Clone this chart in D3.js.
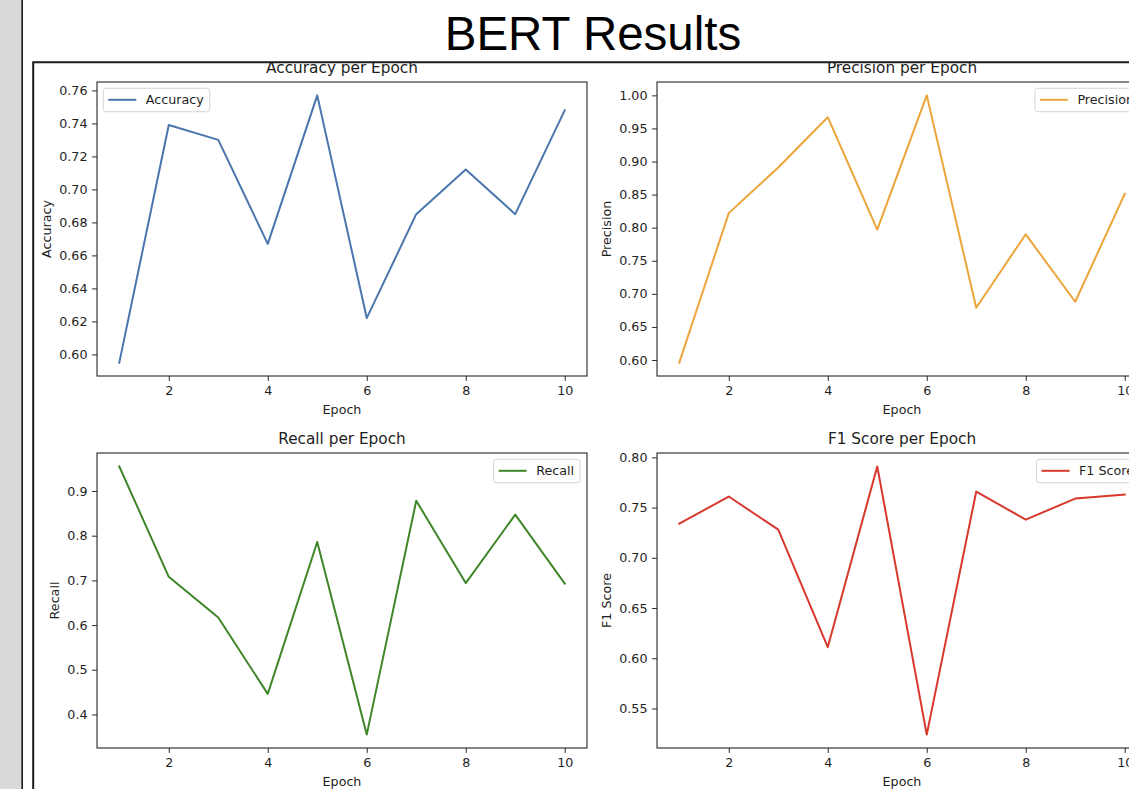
<!DOCTYPE html>
<html>
<head>
<meta charset="utf-8">
<script src="https://cdn.jsdelivr.net/npm/d3@7"></script>
<style>
	body { margin: 0; background: #fff; }
	svg { display: block; }
	.tick text { font-family: "DejaVu Sans", sans-serif; font-size: 12.7px; fill: #1e1e1e; }
	.tick line { stroke: #262626; }
	.domain { display: none; }
</style>
</head>
<body>
<svg id="chart" width="1129" height="789"></svg>
<script>
// values
var epochs = [1, 2, 3, 4, 5, 6, 7, 8, 9, 10];
var accuracy = [0.595, 0.739, 0.730, 0.667, 0.757, 0.622, 0.685, 0.712, 0.685, 0.748];
var precision = [0.596, 0.822, 0.891, 0.967, 0.797, 1.000, 0.679, 0.790, 0.688, 0.851];
var recall = [0.955, 0.708, 0.617, 0.446, 0.786, 0.355, 0.878, 0.694, 0.847, 0.693];
var f1Score = [0.734, 0.761, 0.728, 0.611, 0.791, 0.524, 0.766, 0.738, 0.759, 0.763];

var xTicks = [2, 4, 6, 8, 10];
var accuracyTicks = [0.60, 0.62, 0.64, 0.66, 0.68, 0.70, 0.72, 0.74, 0.76];
var precisionTicks = [0.60, 0.65, 0.70, 0.75, 0.80, 0.85, 0.90, 0.95, 1.00];
var recallTicks = [0.4, 0.5, 0.6, 0.7, 0.8, 0.9];
var f1Ticks = [0.55, 0.60, 0.65, 0.70, 0.75, 0.80];

// subplot layout (matplotlib 2x2 grid)
var panels = [
	{ name: "Accuracy", values: accuracy, ticks: accuracyTicks, fmt: ".2f",
		color: "#4a76ad", left: 97, top: 82, w: 490, h: 294, legend: "left" },
	{ name: "Precision", values: precision, ticks: precisionTicks, fmt: ".2f",
		color: "#eba53a", left: 657, top: 82, w: 490, h: 294, legend: "right" },
	{ name: "Recall", values: recall, ticks: recallTicks, fmt: ".1f",
		color: "#3f8529", left: 97, top: 453, w: 490, h: 295, legend: "right" },
	{ name: "F1 Score", values: f1Score, ticks: f1Ticks, fmt: ".2f",
		color: "#d8382c", left: 657, top: 453, w: 490, h: 295, legend: "right" }
];

var mplFont = "'DejaVu Sans', sans-serif";
var svg = d3.select("#chart");

// slide background: gray strip on the left
svg.append("rect")
	.attr("x", 0).attr("y", 0)
	.attr("width", 22).attr("height", 789)
	.attr("fill", "#d9d9d9");
svg.append("line")
	.attr("x1", 22.2).attr("x2", 22.2)
	.attr("y1", 0).attr("y2", 789)
	.attr("stroke", "#1a1a1a")
	.attr("stroke-width", 1.6);

// slide title
svg.append("text")
	.text("BERT Results")
	.attr("x", 593)
	.attr("y", 50)
	.attr("text-anchor", "middle")
	.style("font-family", "'Liberation Sans', Arial, sans-serif")
	.style("font-size", "47.5px")
	.attr("fill", "#000");

// the pasted figure is cropped by its frame
svg.append("clipPath")
	.attr("id", "figClip")
	.append("rect")
	.attr("x", 34).attr("y", 63)
	.attr("width", 1129 - 34).attr("height", 789 - 63);

var fig = svg.append("g")
	.attr("clip-path", "url(#figClip)");

panels.forEach(function(p){
	var g = fig.append("g")
		.attr("transform", "translate(" + p.left + "," + p.top + ")");

	var xScale = d3.scaleLinear()
		.domain([0.55, 10.45])
		.range([0, p.w]);

	// matplotlib style 5% margins
	var yMin = d3.min(p.values), yMax = d3.max(p.values);
	var pad = (yMax - yMin) * 0.05;
	var yScale = d3.scaleLinear()
		.domain([yMin - pad, yMax + pad])
		.range([p.h, 0]);

	// axes
	var xAxisG = g.append("g")
		.attr("transform", "translate(0," + p.h + ")")
		.call(d3.axisBottom(xScale)
			.tickValues(xTicks)
			.tickFormat(d3.format("d"))
			.tickSizeInner(4.9)
			.tickSizeOuter(0)
			.tickPadding(4.6));
	xAxisG.selectAll(".tick text").attr("dy", "0.71em");

	var yAxisG = g.append("g")
		.call(d3.axisLeft(yScale)
			.tickValues(p.ticks)
			.tickFormat(d3.format(p.fmt))
			.tickSizeInner(4.9)
			.tickSizeOuter(0)
			.tickPadding(4.6));

	// line
	var line = d3.line()
		.x(function(d, i){ return xScale(epochs[i]); })
		.y(function(d){ return yScale(d); });

	g.append("path")
		.datum(p.values)
		.attr("d", line)
		.attr("fill", "none")
		.attr("stroke", p.color)
		.attr("stroke-width", 2)
		.attr("stroke-linejoin", "round")
		.attr("stroke-linecap", "square");

	// axes frame
	g.append("rect")
		.attr("x", 0).attr("y", 0)
		.attr("width", p.w).attr("height", p.h)
		.attr("fill", "none")
		.attr("stroke", "#262626")
		.attr("stroke-width", 1.1);

	// title and axis labels
	g.append("text")
		.text(p.name + " per Epoch")
		.attr("x", p.w / 2)
		.attr("y", -8.7)
		.attr("text-anchor", "middle")
		.style("font-family", mplFont)
		.style("font-size", "15.3px")
		.attr("fill", "#1e1e1e");

	g.append("text")
		.text("Epoch")
		.attr("x", p.w / 2)
		.attr("y", p.h + 37.5)
		.attr("text-anchor", "middle")
		.style("font-family", mplFont)
		.style("font-size", "12.7px")
		.attr("fill", "#1e1e1e");

	// y label sits left of the widest tick label
	var tickBox = yAxisG.node().getBBox();
	var labelX = tickBox.x - 5.6 - 3;
	g.append("text")
		.text(p.name)
		.attr("transform", "translate(" + labelX + "," + (p.h / 2) + ") rotate(-90)")
		.attr("text-anchor", "middle")
		.style("font-family", mplFont)
		.style("font-size", "12.7px")
		.attr("fill", "#1e1e1e");

	// legend
	var leg = g.append("g");
	var legBox = leg.append("rect");
	var legText = leg.append("text")
		.text(p.name)
		.attr("x", 42.5)
		.attr("y", 16)
		.style("font-family", mplFont)
		.style("font-size", "12.7px")
		.attr("fill", "#1e1e1e");
	var textW = legText.node().getComputedTextLength();
	var boxW = 42.5 + textW + 6;
	legBox
		.attr("x", 0).attr("y", 0)
		.attr("width", boxW).attr("height", 23.4)
		.attr("rx", 2.5)
		.attr("fill", "#fff")
		.attr("fill-opacity", 0.8)
		.attr("stroke", "#d6d6d6")
		.attr("stroke-width", 1);
	leg.append("line")
		.attr("x1", 5).attr("x2", 33)
		.attr("y1", 11.5).attr("y2", 11.5)
		.attr("stroke", p.color)
		.attr("stroke-width", 2);

	var legX = p.legend == "left" ? 6.3 : p.w - 7 - boxW;
	leg.attr("transform", "translate(" + legX + ",6.3)");
});

// frame of the pasted figure
svg.append("path")
	.attr("d", "M33.2,789V62.2H1129")
	.attr("fill", "none")
	.attr("stroke", "#1a1a1a")
	.attr("stroke-width", 2);
</script>
</body>
</html>
